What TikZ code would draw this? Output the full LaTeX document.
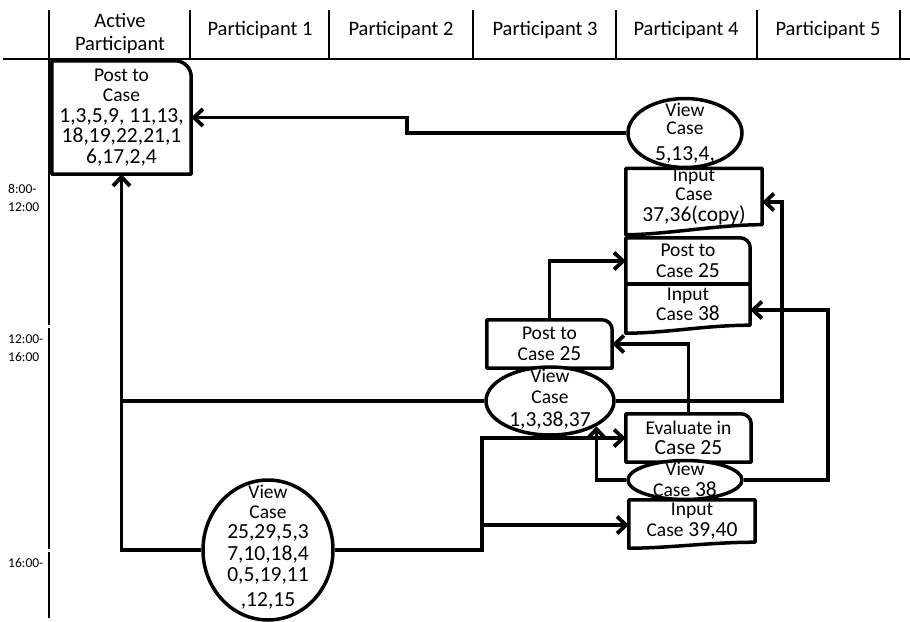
\documentclass[tikz,border=0pt]{standalone}
\usepackage{fontspec}
\setmainfont{Carlito}
\usetikzlibrary{arrows.meta,shapes.geometric}
\newcommand\fsw{\fontsize{19.5}{20.5}\selectfont}
\newcommand\fsn{\fontsize{21.5}{20.5}\selectfont}
\newcommand\rtbox[2][10pt]{\draw[shp] (#2.south west) -- (#2.north west) -- ([xshift=-#1]#2.north east) arc[start angle=90,end angle=0,radius=#1] -- (#2.south east) -- cycle;}
\newcommand\docbox[2][10pt]{\draw[shp] (#2.north west) -- (#2.north east) -- (#2.south east) .. controls +(-45pt,0pt) and +(40pt,0pt) .. ([yshift=-#1]#2.south west) -- cycle;}
\begin{document}
\begin{tikzpicture}[x=1pt,y=-1pt,
  conn/.style={line width=3.8pt},
  arr/.style={conn,-{Straight Barb[length=9pt,width=17pt]}},
  txt/.style={inner sep=0pt, align=center, font=\fsn},
  shp/.style={line width=3.5pt, line join=round},
  ell/.style={ellipse, draw, fill=white, line width=3.5pt, inner sep=0pt},
  hdr/.style={font=\fontsize{20.5}{23}\selectfont, align=center, inner sep=0pt},
  tick/.style={font=\fontsize{13.5}{18}\selectfont, align=left, anchor=west, inner sep=0pt},
  grid/.style={line width=1.5pt}]
\useasboundingbox (0,0) rectangle (910,621);

% header
\draw[grid] (3,59) -- (910,59);
\foreach \x in {49,190,329,473,616,757,900} \draw[grid] (\x,10) -- (\x,59);
\draw[grid] (49,59) -- (49,325);
\draw[grid] (49,328) -- (49,549);
\draw[grid] (49,552) -- (49,618);
\node[hdr] (h0) at (120,34) {Active\\Participant};
\node[hdr] (h1) at (260,30) {Participant 1};
\node[hdr] (h2) at (401,30) {Participant 2};
\node[hdr] (h3) at (545,30) {Participant 3};
\node[hdr] (h4) at (686,30) {Participant 4};
\node[hdr] (h5) at (828,30) {Participant 5};

% time ticks
\node[tick] (t1) at (8,198) {8:00-\\12:00};
\node[tick] (t2) at (8,348) {12:00-\\16:00};
\node[tick] (t3) at (8,563) {16:00-};

% Active participant box
\node[txt, minimum width=139pt, minimum height=113pt] (A) at (121.5,117.5)
  {{\fsw Post to}\\{\fsw Case}\\1,3,5,9, 11,13,\\18,19,22,21,1\\6,17,2,4};
\rtbox[16pt]{A}

% Input Case 37,36(copy)
\node[txt, minimum width=136pt, minimum height=53pt] (C) at (694,196.5)
  {{\fsw Input}\\[-1pt]{\fsw Case}\\37,36(copy)};
\docbox{C}

% View Case 5,13,4,
\node[ell, minimum width=114pt, minimum height=69pt] (B) at (685,133) {};
\node[txt] (Bt) at (685,133) {{\fsw View}\\[-2.5pt]{\fsw Case}\\[6pt]5,13,4,};

% Post to Case 25 / Input Case 38
\node[txt, minimum width=124pt, minimum height=46pt] (D) at (688,261)
  {{\fsw Post to}\\{\fsw Case} 25};
\rtbox{D}
\node[txt, minimum width=124pt, minimum height=41pt] (E) at (688,304.5)
  {{\fsw Input}\\{\fsw Case} 38};
\docbox[8pt]{E}

% Post to Case 25 (middle)
\node[txt, minimum width=125pt, minimum height=48pt] (F) at (549.5,344)
  {{\fsw Post to}\\{\fsw Case} 25};
\rtbox{F}

% View Case 1,3,38,37
\node[ell, minimum width=128pt, minimum height=68pt] (G) at (550,401) {};
\node[txt] (Gt) at (550,399) {{\fsw View}\\{\fsw Case}\\[2.5pt]1,3,38,37};

% Evaluate in Case 25
\node[txt, minimum width=125pt, minimum height=48pt] (H) at (688.5,438)
  {{\fsw Evaluate in}\\Case 25};
\rtbox{H}

% Input Case 39,40
\node[txt, minimum width=126pt, minimum height=42pt] (J) at (692,521)
  {{\fsw Input}\\{\fsw Case} 39,40};
\docbox[6pt]{J}

% View Case 38
\node[ell, minimum width=114pt, minimum height=39pt] (I) at (685,480) {};
\node[txt] (It) at (685,479.5) {{\fsw View}\\{\fsw Case} 38};

% big View Case
\node[ell, minimum width=130pt, minimum height=140pt] (K) at (268,550) {};
\node[txt] (Kt) at (268,547) {{\fsw View}\\[-1pt]{\fsw Case}\\25,29,5,3\\[1pt]7,10,18,4\\[1pt]0,5,19,11\\[4pt],12,15};

% connectors
\draw[arr] (B.west) -- (407,133) -- (407,117.5) -- (A.east);
\draw[arr] (K.west) -| (A.south);
\draw[conn] (G.west) -- (G.west -| A.south);
\draw[arr] (G.east) -- (782,401) -- (782,202) -- ([yshift=-5.5pt]C.east);
\draw[arr] (F.north) |- (D.west);
\draw[arr] (H.north) |- (F.east);
\coordinate (jn) at (482,525);
\draw[arr] (K.east) -- (482,550) |- (H.west);
\draw[arr] (jn) -- ([yshift=-4pt]J.west);
\draw[arr] (I.west) -| (G.south east);
\draw[arr] (I.east) -- (828,480) -- (828,310) -- ([yshift=-5.5pt]E.east);
\end{tikzpicture}
\end{document}
